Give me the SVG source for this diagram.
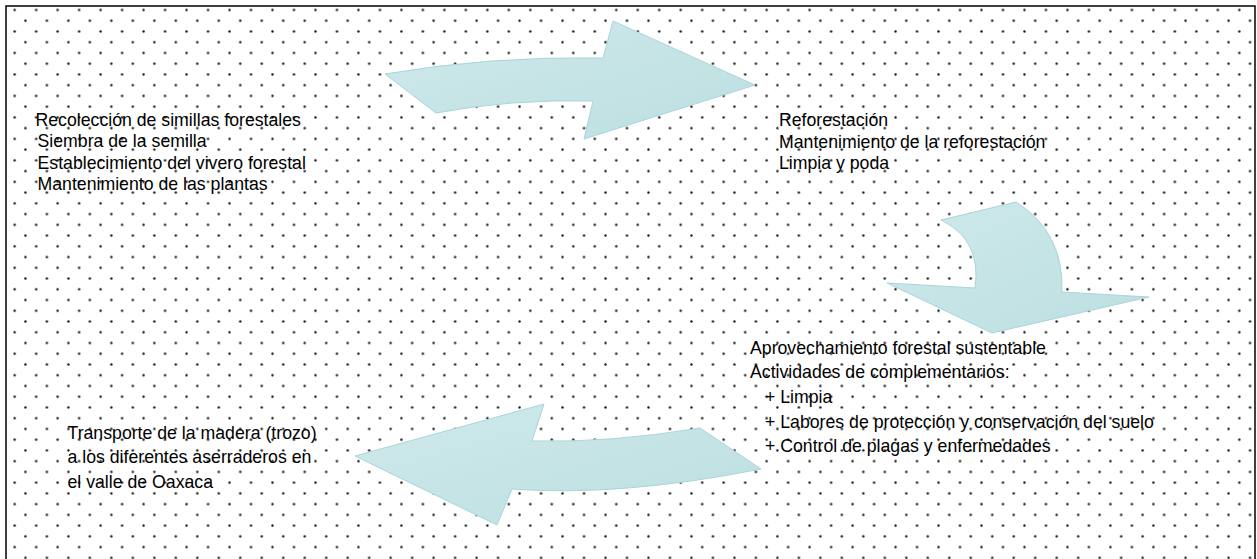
<svg xmlns="http://www.w3.org/2000/svg" width="1257" height="559" viewBox="0 0 1257 559">
  <defs>
    <pattern id="dots" patternUnits="userSpaceOnUse" x="9.3" y="4.6" width="21.485" height="21.485">
      <circle cx="5.37" cy="5.37" r="1.2" fill="#161616"/>
      <circle cx="16.11" cy="16.11" r="1.2" fill="#161616"/>
    </pattern>
    <linearGradient id="teal" x1="0" y1="0" x2="1" y2="1">
      <stop offset="0" stop-color="#cfe9eb"/>
      <stop offset="1" stop-color="#bcdfe1"/>
    </linearGradient>
  </defs>
  <style>
    .t { font-family: "Liberation Sans", Arial, sans-serif; font-size: 17.7px; fill: #000; }
    .arrow { fill: url(#teal); stroke: #a9d5d9; stroke-width: 1; stroke-linejoin: miter; }
  </style>
  <rect x="0" y="0" width="1257" height="559" fill="#ffffff"/>
  <rect x="6" y="6" width="1249" height="553" fill="url(#dots)"/>
  <path d="M6,559 V6 H1255 V559" fill="none" stroke="#000" stroke-width="1.5"/>

  <g id="connectors">
    <path class="arrow" d="M385,74 Q490,56 603,58 L613,21 L755,85 L584,139 L593,101 Q510,99 436,113 Z"/>
    <path class="arrow" d="M941,220 L1016,202 Q1064,232 1062,292 L1149,297 L992,333 L887,283 L975,288 Q982,240 941,220 Z"/>
    <path class="arrow" d="M355,456 L544,404 L532,441 Q610,443 700,428 L761,469 Q620,497 512,489 L497,525 Z"/>
  </g>

  <g id="node-vivero">
    <text class="t" x="35.5" y="125.5">Recolección de simillas forestales</text>
    <text class="t" x="37.5" y="147">Siembra de la semilla</text>
    <text class="t" x="37.5" y="168.5">Establecimiento del vivero forestal</text>
    <text class="t" x="37.5" y="190">Mantenimiento de las plantas</text>
  </g>

  <g id="node-reforestacion">
    <text class="t" x="779" y="126">Reforestación</text>
    <text class="t" x="779" y="147.5">Mantenimiento de la reforestación</text>
    <text class="t" x="779" y="169">Limpia y poda</text>
  </g>

  <g id="node-aprovechamiento">
    <text class="t" x="750" y="354">Aprovechamiento forestal sustentable</text>
    <text class="t" x="750" y="378">Actividades de complementarios:</text>
    <text class="t" x="765" y="402.5">+ Limpia</text>
    <text class="t" x="765" y="427.5">+ Labores de protección y conservación del suelo</text>
    <text class="t" x="765" y="452">+ Control de plagas y enfermedades</text>
  </g>

  <g id="node-transporte">
    <text class="t" x="67.5" y="438.5">Transporte de la madera (trozo)</text>
    <text class="t" x="67.5" y="463">a los diferentes aserraderos en</text>
    <text class="t" x="67.5" y="487.5">el valle de Oaxaca</text>
  </g>
</svg>
